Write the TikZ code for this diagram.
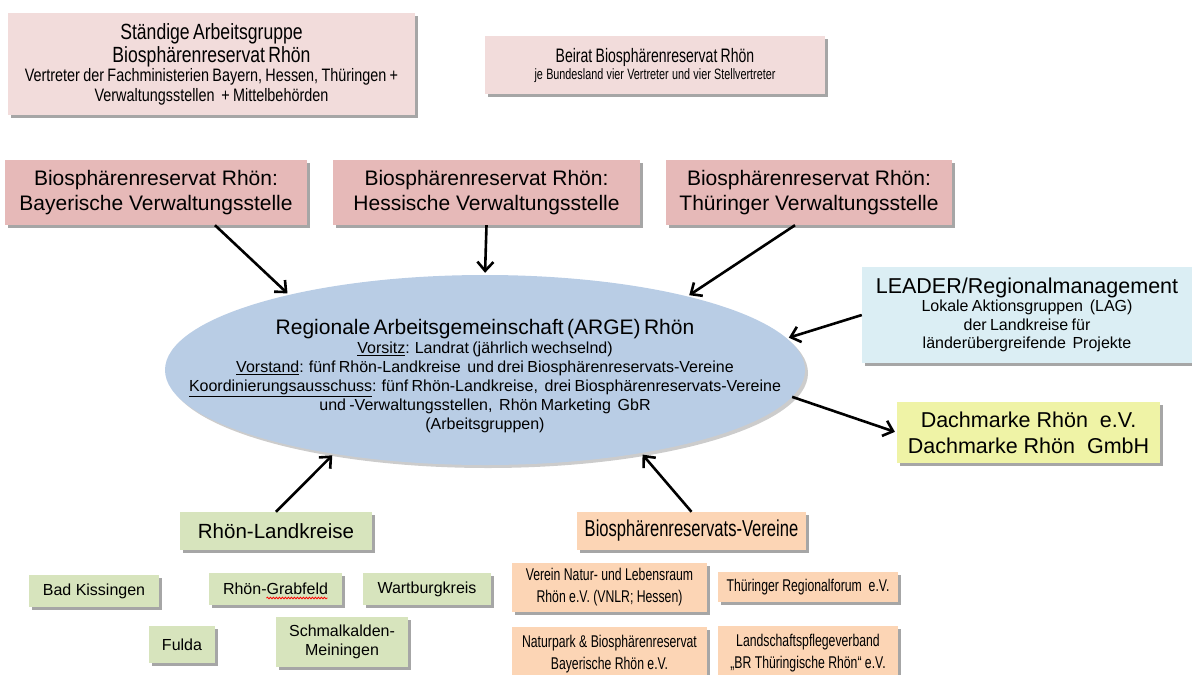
\documentclass[tikz,border=0pt]{standalone}
\usepackage{fontspec}
\setmainfont{Liberation Sans}
\newfontfamily\schmal{Liberation Sans}[FakeStretch=0.8]
\newfontfamily\sehrschmal{Liberation Sans}[FakeStretch=0.72]
\usetikzlibrary{
  calc,positioning,shadows,
  arrows,arrows.meta,
  shapes.geometric,decorations.pathmorphing
}
\definecolor{rosahell}{HTML}{F2DCDB}
\definecolor{rosadunkel}{HTML}{E6B9B8}
\definecolor{ellblau}{HTML}{B9CDE5}
\definecolor{leaderblau}{HTML}{DBEEF4}
\definecolor{dachgelb}{HTML}{EFF3A6}
\definecolor{kreisgruen}{HTML}{D7E4BD}
\definecolor{vereinorange}{HTML}{FCD5B5}
\newcommand{\setfs}[2]{\fontsize{#1}{#2}\selectfont}

\begin{document}
\begin{tikzpicture}[x=1pt,y=-1pt,
  orgbox/.style={inner sep=0pt,align=center,
    drop shadow={shadow xshift=3pt,shadow yshift=-3pt,opacity=0.35,fill=black}},
  kreis/.style={orgbox,fill=kreisgruen,font=\setfs{16}{19}},
  verein/.style={orgbox,fill=vereinorange,font=\sehrschmal\setfs{17}{22}},
  pfeil/.style={line width=2.6pt,-{Straight Barb[length=9pt,width=16pt]},shorten >=2pt}
]
\useasboundingbox (0,0) rectangle (1192,675);

% obere Gremien
\node[orgbox,fill=rosahell,text width=407,minimum height=102,font=\schmal] (stag) at (211.5,64)
  {\setfs{22}{23}Ständige Arbeitsgruppe\\Biosphärenreservat Rhön\par
   \setfs{18}{19.5}Vertreter der Fachministerien Bayern, Hessen, Thüringen +\\
   Verwaltungsstellen \ + Mittelbehörden\par};
\node[orgbox,fill=rosahell,text width=340,minimum height=58,font=\sehrschmal] (beirat) at (655,65)
  {\setfs{19.5}{21}Beirat Biosphärenreservat Rhön\par
   \setfs{15}{17}je Bundesland vier Vertreter und vier Stellvertreter\par};

% Verwaltungsstellen
\node[orgbox,fill=rosadunkel,minimum width=302,minimum height=65,font=\setfs{21}{25}] (bay) at (156,192.5)
  {Biosphärenreservat Rhön:\\Bayerische Verwaltungsstelle};
\node[orgbox,fill=rosadunkel,minimum width=307,minimum height=65,font=\setfs{21}{25}] (hes) at (486.5,192.5)
  {Biosphärenreservat Rhön:\\Hessische Verwaltungsstelle};
\node[orgbox,fill=rosadunkel,minimum width=286,minimum height=65,font=\setfs{21}{25}] (thu) at (809,192.5)
  {Biosphärenreservat Rhön:\\Thüringer Verwaltungsstelle};

% ARGE
\node[ellipse,fill=ellblau,minimum width=640,minimum height=190,inner sep=0pt,
  drop shadow={shadow xshift=3pt,shadow yshift=-3pt,opacity=0.2,fill=black}] (arge) at (485,370) {};
\node[align=center,inner sep=0pt,text width=620] (argetext) at (485,376)
  {\setfs{21}{24}Regionale Arbeitsgemeinschaft (ARGE) Rhön\par
   \setfs{16}{19}\underline{Vorsitz}: Landrat (jährlich wechselnd)\\
   \underline{Vorstand}: fünf Rhön-Landkreise \ und drei Biosphärenreservats-Vereine\\
   \underline{Koordinierungsausschuss}: fünf Rhön-Landkreise, \ drei Biosphärenreservats-Vereine\\
   und -Verwaltungsstellen, \ Rhön Marketing \ GbR\\
   (Arbeitsgruppen)\par};

% rechts
\node[orgbox,fill=leaderblau,text width=330,minimum height=96] (leader) at (1027,315)
  {\setfs{21.5}{24}LEADER/Regionalmanagement\par
   \setfs{16}{18.5}Lokale Aktionsgruppen \ (LAG)\\der Landkreise für\\länderübergreifende \ Projekte\par};
\node[orgbox,fill=dachgelb,minimum width=263,minimum height=61,font=\setfs{21.5}{26}] (dach) at (1028.5,432.5)
  {Dachmarke Rhön \ e.V.\\Dachmarke Rhön \ GmbH};

% Landkreise
\node[orgbox,fill=kreisgruen,minimum width=192,minimum height=38,font=\setfs{20.5}{24}] (lk) at (276,531)
  {Rhön-Landkreise};
\node[kreis,minimum width=130,minimum height=32] (bk) at (94,591) {Bad Kissingen};
\node[kreis,minimum width=133,minimum height=32] (rg) at (275.5,589) {Rhön-Grabfeld};
\node[kreis,minimum width=128,minimum height=32] (wb) at (427,589) {Wartburgkreis};
\node[kreis,minimum width=66,minimum height=37] (fu) at (182,644.5) {Fulda};
\node[kreis,minimum width=132,minimum height=50] (sm) at (342,642) {Schmalkalden-\\Meiningen};
\draw[red,line width=0.8pt,decorate,decoration={snake,amplitude=0.8pt,segment length=3pt}]
  ([xshift=-9,yshift=-9]rg.center) -- ([xshift=52,yshift=-9]rg.center);

% Vereine
\node[orgbox,fill=vereinorange,minimum width=229,minimum height=38,font=\sehrschmal\setfs{23}{26}] (ver) at (691.5,531)
  {Biosphärenreservats-Vereine};
\node[verein,minimum width=195,minimum height=49] (vnlr) at (609.5,587.5)
  {Verein Natur- und Lebensraum\\Rhön e.V. (VNLR; Hessen)};
\node[verein,minimum width=180,minimum height=30] (trf) at (808,587)
  {Thüringer Regionalforum \ e.V.};
\node[verein,minimum width=195,minimum height=54] (np) at (609.5,654)
  {Naturpark \& Biosphärenreservat\\Bayerische Rhön e.V.};
\node[verein,minimum width=180,minimum height=55] (lpv) at (808,653.5)
  {Landschaftspflegeverband\\„BR Thüringische Rhön“ e.V.};

% Pfeile
\draw[pfeil] ([xshift=59]bay.south) -- (arge.159);
\draw[pfeil] (hes.south) -- (arge.north);
\draw[pfeil] ([xshift=-14]thu.south) -- (arge.20);
\draw[pfeil] (leader.west) -- (arge.6);
\draw[pfeil] (arge.-5) -- (dach.west);
\draw[pfeil] (lk.north) -- (arge.-151);
\draw[pfeil] (ver.north) -- (arge.-28);
\end{tikzpicture}
\end{document}
